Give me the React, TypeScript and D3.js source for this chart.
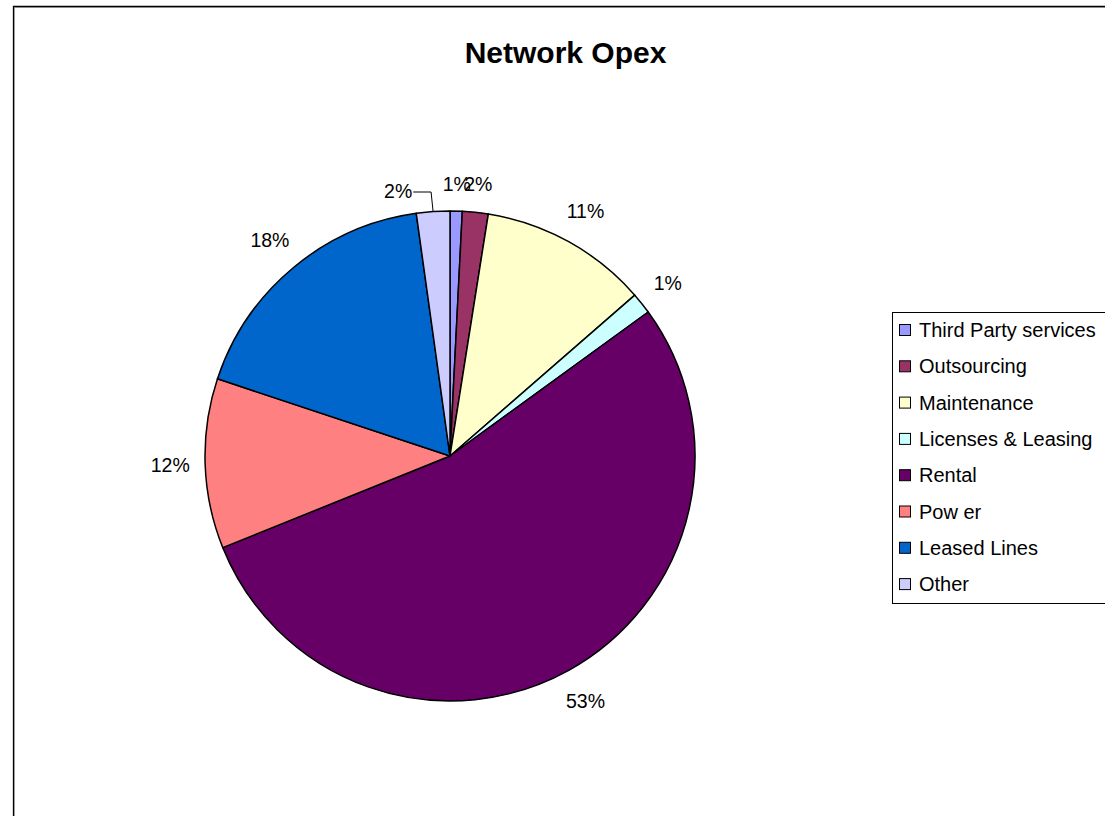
import React from "react";
import * as d3 from "d3";

const categories = [
  "Third Party services",
  "Outsourcing",
  "Maintenance",
  "Licenses & Leasing",
  "Rental",
  "Pow er",
  "Leased Lines",
  "Other",
];
const values = [0.8, 1.7, 11.1, 1.4, 53.9, 11.2, 17.7, 2.2];
const percentLabels = ["1%", "2%", "11%", "1%", "53%", "12%", "18%", "2%"];
const colors = ["#9999FF", "#993366", "#FFFFCC", "#CCFFFF", "#660066", "#FF8080", "#0066CC", "#CCCCFF"];
const title = "Network Opex";

const W = 1105;
const H = 816;
const cx = 450;
const cy = 456;
const R = 245;
const labelFont = 19.5;
const gap = 15;
// label moved aside with a leader line (index of "Other")
const movedLabel = 7;
const movedDx = -33;
const movedDy = 7;

const FONT = "'Liberation Sans', Arial, sans-serif";

export default function App() {
  const pie = d3
    .pie<number>()
    .sort(null)
    .value((d) => d)
    .startAngle(0)
    .endAngle(2 * Math.PI);
  const arcs = pie(values);
  const arc = d3.arc<d3.PieArcDatum<number>>().innerRadius(0).outerRadius(R);

  const labels = arcs.map((a, i) => {
    const mid = (a.startAngle + a.endAngle) / 2;
    const sx = Math.sin(mid);
    const sy = -Math.cos(mid);
    const txt = percentLabels[i];
    const w = (txt.length - 1) * 0.556 * labelFont + 0.889 * labelFont;
    const h = 1.2 * labelFont;
    const dist = R + gap + (Math.abs(sx) * w) / 2 + (Math.abs(sy) * h) / 2;
    let x = cx + sx * dist;
    let y = cy + sy * dist;
    let leader: string | null = null;
    if (i === movedLabel) {
      x += movedDx;
      y += movedDy;
      const ex = cx + sx * R;
      const ey = cy + sy * R;
      const ly = y + 1;
      leader = `M${x + w / 2 + 1},${ly}L${ex - 2},${ly}L${ex},${ey}`;
    }
    return { x, y, txt, leader };
  });

  const legendX = 892;
  const legendY = 312;
  const legendH = 291;
  const rowStep = 36.3;
  const firstRow = 330;

  return (
    <svg width={W} height={H} style={{ position: "absolute", left: 0, top: 0, background: "#fff" }}>
      <rect x={0} y={0} width={W} height={H} fill="#fff" />
      {/* outer frame */}
      <path d={`M14.5,${H + 10}L14.5,7.5L${W + 10},7.5`} fill="none" stroke="#bbb" strokeWidth={1} />
      <path d={`M13.5,${H + 10}L13.5,6.5L${W + 10},6.5`} fill="none" stroke="#000" strokeWidth={1.3} />

      <text
        x={565.5}
        y={63}
        textAnchor="middle"
        fontFamily={FONT}
        fontWeight="bold"
        fontSize={30}
        fill="#000"
      >
        {title}
      </text>

      <g>
        {arcs.map((a, i) => (
          <path
            key={i}
            d={arc(a) || ""}
            transform={`translate(${cx},${cy})`}
            fill={colors[i]}
            stroke="#000"
            strokeWidth={1.5}
            strokeLinejoin="round"
          />
        ))}
      </g>

      {labels.map((l, i) => (
        <g key={i}>
          {l.leader && <path d={l.leader} fill="none" stroke="#000" strokeWidth={1} />}
          <text
            x={l.x}
            y={l.y}
            textAnchor="middle"
            dominantBaseline="central"
            fontFamily={FONT}
            fontSize={labelFont}
            fill="#000"
          >
            {l.txt}
          </text>
        </g>
      ))}

      <g>
        <rect x={legendX + 0.5} y={legendY + 0.5} width={W} height={legendH} fill="#fff" stroke="#000" strokeWidth={1} />
        {categories.map((c, i) => {
          const yc = firstRow + i * rowStep;
          return (
            <g key={c}>
              <rect x={899.5} y={yc - 5.5} width={11} height={11} fill={colors[i]} stroke="#000" strokeWidth={1} />
              <text x={919} y={yc + 7} fontFamily={FONT} fontSize={20} fill="#000">
                {c}
              </text>
            </g>
          );
        })}
      </g>
    </svg>
  );
}
